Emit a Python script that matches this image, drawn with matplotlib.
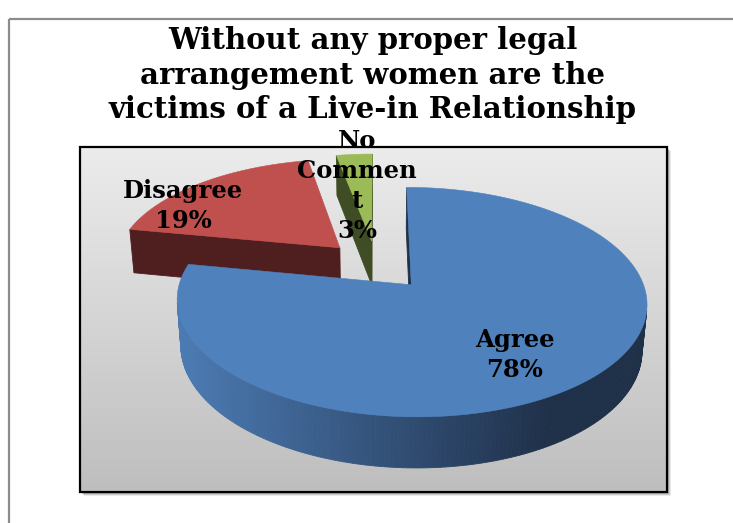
import textwrap
import numpy as np
import matplotlib.pyplot as plt
from matplotlib.patches import Polygon, Rectangle
from matplotlib.colors import to_rgb

# survey answers (percent of respondents)
categories = ["Agree", "Disagree", "No Comment"]
shares = [78, 19, 3]
wrap_width = [20, 20, 6]
top_colors = ["#4F81BD", "#C0504D", "#9BBB59"]
wall_colors = [("#4C7BB4", "#1F3049"), ("#4F1F1F", "#4F1F1F"), ("#3E4D23", "#3E4D23")]
cut_colors = ["#1F3049", "#4F1F1F", "#3E4D23"]
title = "Without any proper legal\narrangement women are the\nvictims of a Live-in Relationship"

# 3d pie view: centre (px), radius (px), camera tilt, camera distance, thickness
CX, CY, K = 376.5, 265.0, 226.0
SN = 0.47
CS = np.sqrt(1 - SN ** 2)
DIST = 6.0
DEPTH = 0.23
EXPLODE = 0.235
CAM = np.array([0.0, -DIST * CS, DIST * SN])

label_xy = [(515, 355), (183, 206), (357, 186)]


def project(x, y, z):
    d = y * CS - z * SN
    s = DIST / (DIST + d)
    return CX + K * x * s, CY - K * (y * SN + z * CS) * s


def rim(apex, deg, z):
    t = np.radians(deg)
    return np.array([apex[0] + np.sin(t), apex[1] + np.cos(t), z])


def facing(normal, point):
    return np.dot(normal, CAM - point) > 0


def mix(c0, c1, t):
    a, b = np.array(to_rgb(c0)), np.array(to_rgb(c1))
    return tuple(a + (b - a) * t)


fig = plt.figure(figsize=(7.33, 5.23), dpi=100)
ax = fig.add_axes([0, 0, 1, 1])
ax.set_xlim(0, 733)
ax.set_ylim(523, 0)
ax.axis("off")

# chart border
ax.add_patch(Rectangle((9, 19), 800, 600, fill=False, ec="#8c8c8c", lw=1.6))

# plot area with shadow and vertical grey gradient
bx0, by0, bx1, by1 = 80, 147, 667, 492
for off, a in [(4, 0.12), (3, 0.2), (2, 0.3)]:
    ax.add_patch(Rectangle((bx0 + off, by0 + off), bx1 - bx0, by1 - by0,
                           fc="#555555", ec="none", alpha=a, zorder=1))
grad = np.linspace(0.925, 0.745, 256).reshape(-1, 1)
ax.imshow(np.dstack([grad] * 3), extent=[bx0, bx1, by1, by0], aspect="auto",
          interpolation="bilinear", zorder=2)
ax.add_patch(Rectangle((bx0, by0), bx1 - bx0, by1 - by0, fill=False,
                       ec="black", lw=1.6, zorder=3))

# slice geometry
starts = np.concatenate([[0], np.cumsum(shares)[:-1]]) * 3.6
ends = np.cumsum(shares) * 3.6
apexes = []
for a0, a1 in zip(starts, ends):
    mid = np.radians((a0 + a1) / 2)
    apexes.append(np.array([EXPLODE * np.sin(mid), EXPLODE * np.cos(mid), 0.0]))

order = sorted(range(len(shares)), key=lambda i: -apexes[i][1])
z = 4
for i in order:
    ap, a0, a1 = apexes[i], starts[i], ends[i]
    ap_b = ap + np.array([0, 0, -DEPTH])
    angs = np.linspace(a0, a1, max(int(a1 - a0) + 2, 3))

    # outer wall
    xs_all = [project(*rim(ap, a, 0))[0] for a in np.linspace(0, 360, 181)]
    left, right = min(xs_all), max(xs_all)
    for p, q in zip(angs[:-1], angs[1:]):
        m = np.radians((p + q) / 2)
        n = np.array([np.sin(m), np.cos(m), 0])
        if not facing(n, rim(ap, (p + q) / 2, 0)):
            continue
        quad = [project(*rim(ap, p, 0)), project(*rim(ap, q, 0)),
                project(*rim(ap, q, -DEPTH)), project(*rim(ap, p, -DEPTH))]
        t = np.clip((quad[0][0] - left) / ((right - left) * 0.8), 0, 1)
        col = mix(wall_colors[i][0], wall_colors[i][1], t)
        ax.add_patch(Polygon(quad, closed=True, fc=col, ec=col, lw=0.6, zorder=z))

    # cut faces
    for a, sign in [(a0, 1), (a1, -1)]:
        t = np.radians(a)
        n = sign * np.array([-np.cos(t), np.sin(t), 0])
        r0 = rim(ap, a, 0)
        if not facing(n, (ap + r0) / 2):
            continue
        face = [project(*ap), project(*r0), project(*rim(ap, a, -DEPTH)), project(*ap_b)]
        ax.add_patch(Polygon(face, closed=True, fc=cut_colors[i], ec=cut_colors[i],
                             lw=0.6, zorder=z + 1))

    # top face
    top = [project(*ap)] + [project(*rim(ap, a, 0)) for a in angs]
    ax.add_patch(Polygon(top, closed=True, fc=top_colors[i], ec=top_colors[i],
                         lw=0.4, zorder=z + 2))
    z += 3

# data labels, long words broken the way a narrow label box wraps them
for i, (cat, v) in enumerate(zip(categories, shares)):
    lines = []
    for word in cat.split():
        lines += textwrap.wrap(word, wrap_width[i], break_long_words=True)
    lines.append(f"{v}%")
    ax.text(*label_xy[i], "\n".join(lines), ha="center", va="center",
            fontsize=17.5, fontweight="bold", family="DejaVu Serif",
            linespacing=1.3, zorder=30)

ax.text(373, 75, title, ha="center", va="center", fontsize=21,
        fontweight="bold", family="DejaVu Serif", linespacing=1.22, zorder=30)

fig.savefig("out.png", dpi=100)
